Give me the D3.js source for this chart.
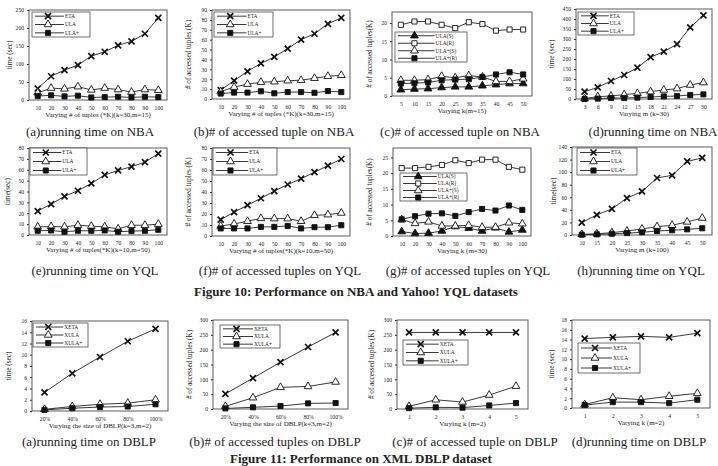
<!DOCTYPE html>
<html><head><meta charset="utf-8">
<script src="https://cdn.jsdelivr.net/npm/d3@7"></script>
<style>
body{margin:0;background:#fff}
text{font-family:"Liberation Serif","Times New Roman",serif;fill:#222}
</style>
</head><body><div id="graph"></div><script>
var width = 718, height = 466

// x categories
var nbaTuples = [10,20,30,40,50,60,70,80,90,100]
var nbaK = [5,10,15,20,25,30,35,40,45,50]
var nbaM = [3,6,9,12,15,18,21,24,27,30]
var yqlTuples = [10,20,30,40,50,60,70,80,90,100]
var yqlK = [10,20,30,40,50,60,70,80,90,100]
var yqlM = [10,15,20,25,30,35,40,45,50]
var dblpSize = ['20%','40%','60%','80%','100%']
var dblpK = [1,2,3,4,5]

// Figure 10, NBA
var nbaTimeETA  = [32,66,83,97,122,134,152,163,184,228]
var nbaTimeULA  = [20,33,31,37,28,33,29,22,29,27]
var nbaTimeULAp = [11,13,10,12,7,8,9,7,9,8]
var nbaAccETA  = [9,18.5,28,36,42.5,51,60,66,76,82]
var nbaAccULA  = [7.5,12,15,17,17.5,18.5,19,21,23,24]
var nbaAccULAp = [5.5,6.5,6.5,7.8,5.8,7,7,6.3,8,7]
var nbaKULAS  = [1.7,1.9,2.0,2.3,2.5,2.5,2.8,3.1,3.4,3.4]
var nbaKULAR  = [19.5,20.4,20.4,19.5,18.6,20.2,19.7,17.9,18.2,18.2]
var nbaKULApS = [4.3,4.3,4.5,5.4,5.0,5.6,5.2,4.0,4.0,4.7]
var nbaKULApR = [3.4,3.5,3.7,4.3,4.5,4.6,5.2,5.9,6.5,5.9]
var nbaMETA  = [37,58,90,120,157,209,237,274,358,418]
var nbaMULA  = [2,12,15,22,28,37,45,52,70,82]
var nbaMULAp = [0,2,5,5,7,10,13,15,20,23]

// Figure 10, YQL
var yqlTimeETA  = [22,28.4,35.6,40.7,47.4,55.2,59.4,62.8,67,74.8]
var yqlTimeULA  = [7.5,7.8,7.5,9,8.1,7.5,5.7,9,9,10]
var yqlTimeULAp = [3.9,4.2,3,3.9,3.9,4.2,3,3.6,3.9,4.8]
var yqlAccETA  = [14.9,21.7,28,34.3,40.8,46.8,52.1,58,64,70]
var yqlAccULA  = [9,11,13.4,16,15.8,15.8,13.4,18.8,19.4,20.9]
var yqlAccULAp = [6.9,6.9,6.9,8.3,8.3,9.2,6.9,8,8,9.8]
var yqlKULAS  = [1.4,0.8,0.9,1.6,3.0,2.5,1.6,2.6,1.3,1.9]
var yqlKULAR  = [21.6,21.6,22.0,22.6,24.1,23.2,24.3,24.3,22.0,21.1]
var yqlKULApS = [5.2,4.0,4.5,3.2,3.2,3.4,2.8,2.8,4.2,3.9]
var yqlKULApR = [5.3,6.3,7.1,7.2,6.4,7.6,8.6,8.1,9.7,8.3]
var yqlMETA  = [19.7,32,41.6,58.7,69.3,90.7,95,117,122.7]
var yqlMULA  = [1,2,3.7,6.4,9.6,13.3,15.5,20.8,27]
var yqlMULAp = [0.5,1,2,3,4.3,6.4,7.5,9,10.7]

// Figure 11, DBLP
var dblpTimeXETA  = [3.3,6.7,9.6,12.4,14.6]
var dblpTimeXULA  = [0.3,0.8,1.2,1.4,2.0]
var dblpTimeXULAp = [0.2,0.5,0.7,0.8,1.2]
var dblpAccXETA  = [51,104,158,209,258]
var dblpAccXULA  = [9,38,73,76,91]
var dblpAccXULAp = [2,5.6,10,19,20]
var dblpKAccXETA  = [258,258,258,258,258]
var dblpKAccXULA  = [9,31,23.5,47,77]
var dblpKAccXULAp = [3,5.6,4.5,12,20]
var dblpKTimeXETA  = [14.2,14.45,14.65,14.45,15.3]
var dblpKTimeXULA  = [0.7,2.1,1.7,2.4,3.0]
var dblpKTimeXULAp = [0.6,1.2,1.2,1.0,1.7]

// y tick labels
var ticks250 = [0,50,100,150,200,250]
var ticks90 = [0,10,20,30,40,50,60,70,80,90]
var ticks20 = [0,5,10,15,20]
var ticks450 = [0,50,100,150,200,250,300,350,400,450]
var ticks80 = [0,10,20,30,40,50,60,70,80]
var ticks25 = [0,5,10,15,20,25]
var ticks140 = [0,20,40,60,80,100,120,140]
var ticks16 = [0,2,4,6,8,10,12,14,16]
var ticks300 = [0,50,100,150,200,250,300]
var ticks18 = [0,2,4,6,8,10,12,14,16,18]

function three(a, b, c, pre){
  pre = pre || ''
  return [{name: pre + 'ETA', v: a, sym: 'x'}, {name: pre + 'ULA', v: b, sym: 'triO'}, {name: pre + 'ULA+', v: c, sym: 'sqF'}]
}
function four(s, r, ps, pr){
  return [{name: 'ULA(S)', v: s, sym: 'triF'}, {name: 'ULA(R)', v: r, sym: 'sqO'},
          {name: 'ULA+(S)', v: ps, sym: 'triO'}, {name: 'ULA+(R)', v: pr, sym: 'sqF'}]
}

var panels = [
  {box: [29,167,10,100], xs: nbaTuples, series: three(nbaTimeETA, nbaTimeULA, nbaTimeULAp), yTicks: ticks250, yMax: 250, yTitle: 'time (sec)', ytx: 9,
   xTitle: 'Varying # of tuples (*K)(k=30,m=15)', caption: '(a)running time on NBA', cx: 90, cy: 136, leg: [32,12,58,25]},
  {box: [212,350,10,99], xs: nbaTuples, series: three(nbaAccETA, nbaAccULA, nbaAccULAp), yTicks: ticks90, yMax: 90, yTitle: '# of accessed tuples (K)', ytx: 188,
   xTitle: 'Varying # of tuples (*K)(k=30,m=15)', caption: '(b)# of accessed tuple on NBA', cx: 274, cy: 136, leg: [214,12,59,25]},
  {box: [392,532,12,96], xs: nbaK, series: four(nbaKULAS, nbaKULAR, nbaKULApS, nbaKULApR), yTicks: ticks20, yMax: 23, yTitle: '# of accessed tuples(K)', ytx: 369,
   xTitle: 'Varying k(m=15)', caption: '(c)# of accessed tuple on NBA', cx: 460, cy: 136, leg: [395,32,72,30]},
  {box: [576,712,9,99], xs: nbaM, series: three(nbaMETA, nbaMULA, nbaMULAp), yTicks: ticks450, yMax: 450, yTitle: 'time (sec)', ytx: 551,
   xTitle: 'Varying m (k=30)', caption: '(d)running time on NBA', cx: 653, cy: 136, leg: [578,12,56,23]},

  {box: [29,167,148,235], xs: yqlTuples, series: three(yqlTimeETA, yqlTimeULA, yqlTimeULAp), yTicks: ticks80, yMax: 80, yTitle: 'time(sec)', ytx: 7,
   xTitle: 'Varying # of tuples(*K)(k=10,m=50)', caption: '(e)running time on  YQL', cx: 95, cy: 275, leg: [30,148,57,27]},
  {box: [212,350,148,236], xs: yqlTuples, series: three(yqlAccETA, yqlAccULA, yqlAccULAp), yTicks: ticks80, yMax: 80, yTitle: '# of accessed tuples (K)', ytx: 188,
   xTitle: 'Varying # of tuples(*K)(k=10,m=50)', caption: '(f)# of accessed tuples  on  YQL', cx: 280, cy: 275, leg: [213,148,64,27]},
  {box: [393,531,148,236], xs: yqlK, series: four(yqlKULAS, yqlKULAR, yqlKULApS, yqlKULApR), yTicks: ticks25, yMax: 28, yTitle: '# of accessed tuples(K)', ytx: 369,
   xTitle: 'Varying k (m=30)', caption: '(g)# of accessed tuples on YQL', cx: 468, cy: 275, leg: [400,173,67,28]},
  {box: [572,712,147,235], xs: yqlM, series: three(yqlMETA, yqlMULA, yqlMULAp), yTicks: ticks140, yMax: 140, yTitle: 'time(sec)', ytx: 553,
   xTitle: 'Varying m (k=100)', caption: '(h)running time on  YQL', cx: 641, cy: 275, leg: [577,148,60,27]},

  {box: [32,168,321,411], xs: dblpSize, series: three(dblpTimeXETA, dblpTimeXULA, dblpTimeXULAp, 'X'), yTicks: ticks16, yMax: 16, yTitle: 'time (sec)', ytx: 8,
   xTitle: 'Varying the size of DBLP(k=3,m=2)', caption: '(a)running time on DBLP', cx: 89, cy: 446, leg: [33,323,55,24]},
  {box: [213,348,320,409], xs: dblpSize, series: three(dblpAccXETA, dblpAccXULA, dblpAccXULAp, 'X'), yTicks: ticks300, yMax: 300, yTitle: '# of accessed tuples (K)', ytx: 189,
   xTitle: 'Varying the size of DBLP(k=3,m=2)', caption: '(b)# of accessed tuples  on DBLP', cx: 275, cy: 446, leg: [220,325,60,23]},
  {box: [397,528,320,409], xs: dblpK, series: three(dblpKAccXETA, dblpKAccXULA, dblpKAccXULAp, 'X'), yTicks: ticks300, yMax: 300, yTitle: '# of accessed tuples (K)', ytx: 371,
   xTitle: 'Varying k (m=2)', caption: '(c)# of accessed tuple on DBLP', cx: 475, cy: 446, leg: [403,340,65,25]},
  {box: [572,710,320,408], xs: dblpK, series: three(dblpKTimeXETA, dblpKTimeXULA, dblpKTimeXULAp, 'X'), yTicks: ticks18, yMax: 18, yTitle: 'time (sec)', ytx: 551,
   xTitle: 'Varying k (m=2)', caption: '(d)running time on DBLP', cx: 639, cy: 446, leg: [578,343,62,30]}
]

var svg = d3.select('#graph').append('svg')
    .attr('width', width).attr('height', height)

function marker(sel, sym){
  if (sym == 'x'){
    sel.append('path').attr('d', 'M-3,-3L3,3M-3,3L3,-3')
      .attr('stroke', '#111').attr('stroke-width', 1.7).attr('fill', 'none')
    return
  }
  var tri = sym.indexOf('tri') == 0
  sel.append('path')
    .attr('d', d3.symbol().type(tri ? d3.symbolTriangle : d3.symbolSquare).size(tri ? 26 : 26)())
    .attr('fill', sym.slice(-1) == 'F' ? '#111' : '#fff')
    .attr('stroke', '#111').attr('stroke-width', 0.9)
}

panels.forEach(function(p){
  var g = svg.append('g')
  var b = p.box
  var pad = p.xs.length > 6 ? 0.65 : 0.45
  var x = d3.scalePoint().domain(p.xs).range([b[0], b[1]]).padding(pad)
  var y = d3.scaleLinear().domain([0, p.yMax]).range([b[3], b[2]])

  g.append('rect').attr('x', b[0]).attr('y', b[2]).attr('width', b[1] - b[0]).attr('height', b[3] - b[2])
    .attr('fill', 'none').attr('stroke', '#333').attr('stroke-width', 0.8)

  g.append('g').attr('transform', 'translate(' + b[0] + ',0)')
    .call(d3.axisLeft(y).tickValues(p.yTicks).tickSize(2).tickPadding(3))
  g.append('g').attr('transform', 'translate(0,' + b[3] + ')')
    .call(d3.axisBottom(x).tickSize(0).tickPadding(6))
  g.selectAll('.domain').remove()
  g.selectAll('.tick line').attr('stroke', '#333')
  g.selectAll('.tick text').attr('font-size', 5.6).attr('font-family', '"Liberation Serif",serif').attr('fill', '#222')

  var line = d3.line().x(function(d, i){ return x(p.xs[i]) }).y(function(d){ return y(d) })
  p.series.forEach(function(s){
    g.append('path').datum(s.v).attr('d', line)
      .attr('fill', 'none').attr('stroke', '#222').attr('stroke-width', 0.9)
  })
  p.series.forEach(function(s){
    s.v.forEach(function(d, i){
      var m = g.append('g').attr('transform', 'translate(' + x(p.xs[i]) + ',' + y(d) + ')')
      marker(m, s.sym)
    })
  })

  // legend
  var L = p.leg, n = p.series.length, rowH = L[3] / n
  g.append('rect').attr('x', L[0]).attr('y', L[1]).attr('width', L[2]).attr('height', L[3])
    .attr('fill', '#fff').attr('stroke', '#333').attr('stroke-width', 0.7)
  p.series.forEach(function(s, i){
    var ly = L[1] + rowH * (i + 0.5)
    var x0 = L[0] + 3, x1 = L[0] + L[2] * 0.55
    g.append('line').attr('x1', x0).attr('x2', x1).attr('y1', ly).attr('y2', ly)
      .attr('stroke', '#222').attr('stroke-width', 0.9)
    marker(g.append('g').attr('transform', 'translate(' + (x0 + (x1 - x0) * 0.45) + ',' + ly + ')'), s.sym)
    g.append('text').attr('x', x1 + 1).attr('y', ly).attr('dy', '0.35em')
      .attr('font-size', 5.4).text(s.name)
  })

  // titles
  g.append('text').attr('transform', 'translate(' + p.ytx + ',' + ((b[2] + b[3]) / 2) + ') rotate(-90)')
    .attr('text-anchor', 'middle').attr('dy', '0.35em').attr('font-size', 7.2).text(p.yTitle)
  g.append('text').attr('x', (b[0] + b[1]) / 2).attr('y', b[3] + 17)
    .attr('text-anchor', 'middle').attr('font-size', 7).text(p.xTitle)
  g.append('text').attr('x', p.cx).attr('y', p.cy)
    .attr('text-anchor', 'middle').attr('font-size', 13).text(p.caption)
})

svg.append('text').attr('x', 356).attr('y', 296).attr('text-anchor', 'middle')
  .attr('font-size', 13).attr('font-weight', 'bold').text('Figure 10: Performance on NBA and Yahoo! YQL datasets')
svg.append('text').attr('x', 361).attr('y', 463).attr('text-anchor', 'middle')
  .attr('font-size', 13).attr('font-weight', 'bold').text('Figure 11: Performance on XML DBLP dataset')
</script></body></html>
